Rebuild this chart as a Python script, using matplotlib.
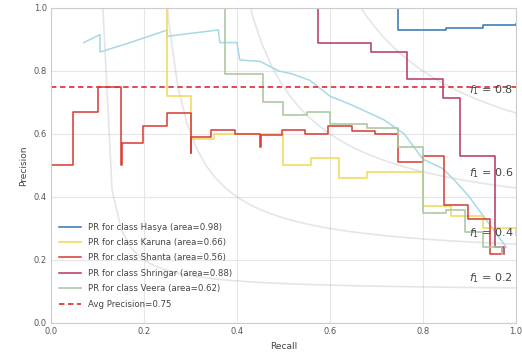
import numpy as np
import matplotlib
matplotlib.use("Agg")
import matplotlib.pyplot as plt

# datos (recall, precision) - curvas escalonadas
hasya_r = [0.0, 0.746, 0.85, 0.93, 1.0]
hasya_p = [1.0, 0.93, 0.935, 0.945, 0.95]

karuna_r = [0.0, 0.249, 0.30, 0.35, 0.45, 0.50, 0.56, 0.62, 0.68, 0.746, 0.80, 0.86, 0.93, 1.0]
karuna_p = [1.0, 0.72, 0.585, 0.60, 0.60, 0.50, 0.525, 0.46, 0.48, 0.48, 0.37, 0.34, 0.30, 0.28]

shanta_r = [0.0, 0.047, 0.10, 0.15, 0.152, 0.198, 0.249, 0.30, 0.302, 0.345, 0.396, 0.45, 0.452,
            0.497, 0.546, 0.595, 0.647, 0.697, 0.746, 0.80, 0.845, 0.897, 0.944, 0.97]
shanta_p = [0.50, 0.67, 0.75, 0.50, 0.57, 0.625, 0.667, 0.54, 0.59, 0.613, 0.60, 0.56, 0.597,
            0.613, 0.60, 0.625, 0.61, 0.60, 0.51, 0.53, 0.375, 0.33, 0.22, 0.24]

shringar_r = [0.0, 0.574, 0.688, 0.766, 0.843, 0.88, 0.955, 0.975]
shringar_p = [1.0, 0.89, 0.86, 0.775, 0.714, 0.53, 0.24, 0.22]

veera_r = [0.0, 0.374, 0.456, 0.50, 0.55, 0.60, 0.68, 0.746, 0.80, 0.85, 0.89, 0.93, 0.97]
veera_p = [1.0, 0.79, 0.70, 0.66, 0.67, 0.63, 0.62, 0.56, 0.35, 0.36, 0.29, 0.24, 0.22]

# curva celeste sin entrada en la leyenda
extra_r = [0.07, 0.105, 0.105, 0.17, 0.25, 0.25, 0.36, 0.363, 0.40, 0.406, 0.45, 0.49, 0.52,
           0.557, 0.60, 0.65, 0.716, 0.76, 0.80, 0.843, 0.87, 0.90, 0.93, 0.96, 0.98]
extra_p = [0.89, 0.915, 0.86, 0.89, 0.93, 0.91, 0.93, 0.89, 0.89, 0.835, 0.83, 0.80, 0.79,
           0.77, 0.72, 0.69, 0.645, 0.60, 0.52, 0.49, 0.45, 0.40, 0.34, 0.28, 0.24]

clases = ["Hasya", "Karuna", "Shanta", "Shringar", "Veera"]
areas = [0.98, 0.66, 0.56, 0.88, 0.62]
colores = ["#3a78b5", "#f0da5a", "#d9403a", "#b83c6a", "#a9c7a0"]
avg_precision = 0.75
f_scores = [0.2, 0.4, 0.6, 0.8]

plt.rcParams['font.family'] = 'DejaVu Sans'
fig, ax = plt.subplots(figsize=(5.22, 3.6), dpi=100)
fig.subplots_adjust(left=0.098, right=0.988, bottom=0.103, top=0.978)

# curvas iso-f1
for f in f_scores:
    x = np.linspace(0.01, 1)
    y = f * x / (2 * x - f)
    ax.plot(x[y >= 0], y[y >= 0], color='gray', alpha=0.2, lw=1.2)
    ax.annotate(r'$f_1$ = {0:0.1f}'.format(f), xy=(0.9, y[45] + 0.02), fontsize=8, color='#444444')

ax.plot(extra_r, extra_p, color='#a6d8e8', lw=1.1)

datos = [(hasya_r, hasya_p), (karuna_r, karuna_p), (shanta_r, shanta_p),
         (shringar_r, shringar_p), (veera_r, veera_p)]
for (r, p), nombre, area, c in zip(datos, clases, areas, colores):
    ax.step(r, p, where='post', color=c, lw=1.15,
            label='PR for class {} (area={:0.2f})'.format(nombre, area))

ax.axhline(avg_precision, color='#e03a3a', ls='--', lw=1.3, dashes=(3, 2),
           label='Avg Precision={:0.2f}'.format(avg_precision))

ax.set_xlim(0.0, 1.0)
ax.set_ylim(0.0, 1.0)
ax.set_xticks(np.arange(0, 1.01, 0.2))
ax.set_yticks(np.arange(0, 1.01, 0.2))
ax.grid(True, color='#e6e6e6', lw=0.8)
ax.set_axisbelow(True)
for s in ax.spines.values():
    s.set_color('#cccccc')
    s.set_linewidth(0.8)
ax.tick_params(labelsize=6, colors='#555555', length=0, pad=3)
ax.set_xlabel('Recall', fontsize=6.5, color='#444444')
ax.set_ylabel('Precision', fontsize=6.5, color='#444444')

ax.legend(loc='lower left', fontsize=6.2, frameon=False, handlelength=2.6,
          labelspacing=0.75, labelcolor='#444444', bbox_to_anchor=(0.0, 0.02))

fig.savefig('out.png', dpi=100)
